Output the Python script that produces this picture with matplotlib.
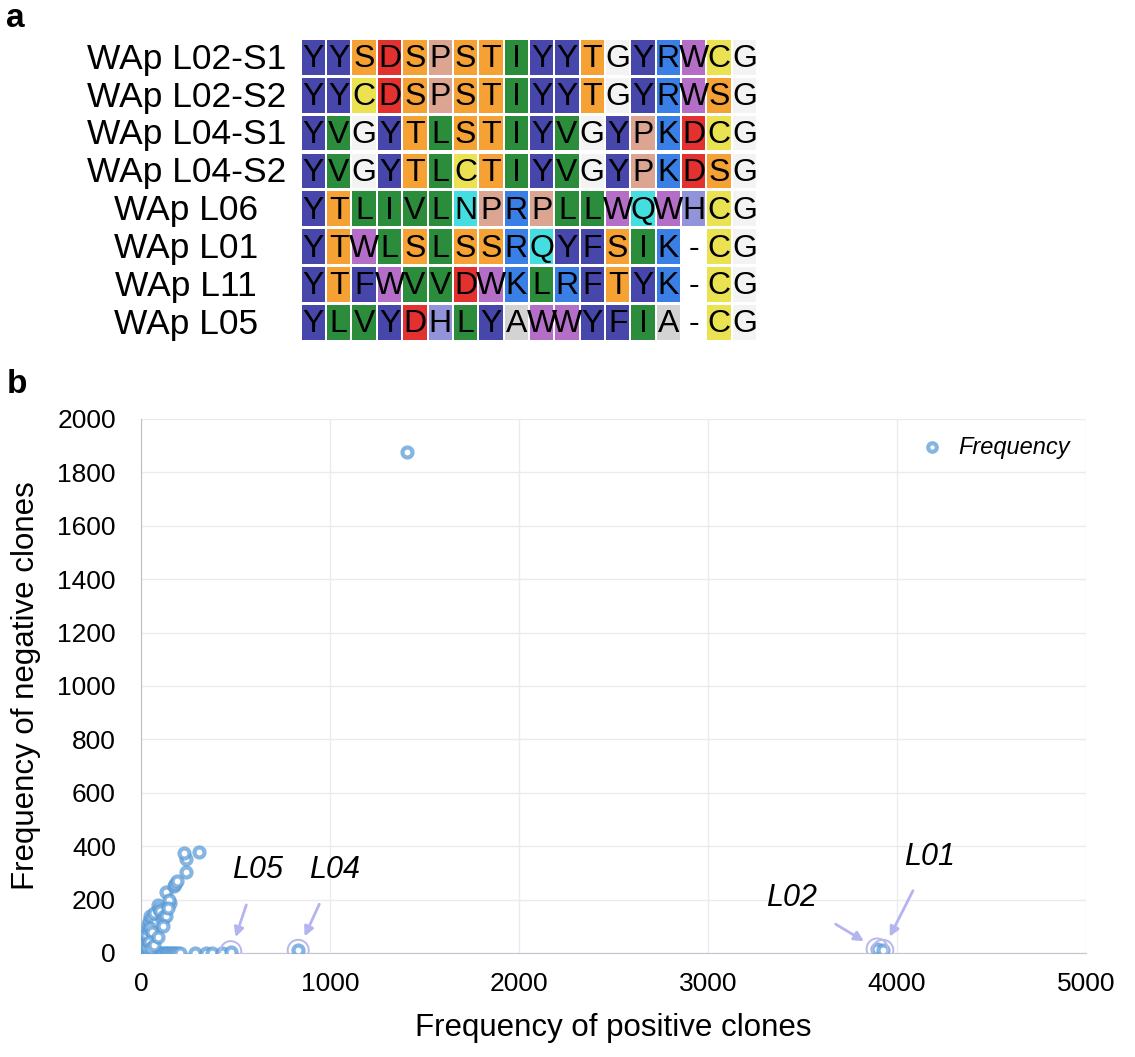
import matplotlib
matplotlib.use('Agg')
import matplotlib.pyplot as plt
from matplotlib.patches import Rectangle

plt.rcParams['font.family'] = ['Liberation Sans', 'DejaVu Sans']

# panel a: peptide alignment
names = ['WAp L02-S1', 'WAp L02-S2', 'WAp L04-S1', 'WAp L04-S2',
         'WAp L06', 'WAp L01', 'WAp L11', 'WAp L05']
seqs = ['YYSDSPSTIYYTGYRWCG',
        'YYCDSPSTIYYTGYRWSG',
        'YVGYTLSTIYVGYPKDCG',
        'YVGYTLCTIYVGYPKDSG',
        'YTLIVLNPRPLLWQWHCG',
        'YTWLSLSSRQYFSIK-CG',
        'YTFWVVDWKLRFTYK-CG',
        'YLVYDHLYAWWYFIA-CG']

# panel b: clone frequencies
pos_freq = [30, 38, 45, 52, 60, 68, 76, 84, 92, 100, 110, 120, 130, 140, 150,
            160, 170, 180, 192, 205, 287, 344, 376, 429,
            32, 32, 32, 30, 28, 35, 35, 40, 49, 60, 76, 70, 88, 95, 102, 110,
            120, 134, 134, 155, 150, 173, 182, 192, 236, 240, 229, 305, 50, 60,
            45, 55, 70, 90, 115, 145,
            1406, 475, 832, 3895, 3925]
neg_freq = [0, 0, 0, 0, 0, 0, 0, 0, 0, 0, 0, 0, 0, 0, 0,
            0, 0, 0, 0, 0, 0, 0, 0, 0,
            10, 23, 48, 60, 73, 90, 105, 120, 137, 130, 111, 150, 178, 165, 156, 125,
            140, 137, 228, 187, 200, 250, 260, 270, 305, 352, 375, 377, 95, 80,
            40, 20, 30, 60, 100, 170,
            1878, 5, 10, 15, 10]
hits = ['L05', 'L04', 'L02', 'L01']
hit_x = [475, 832, 3895, 3925]
hit_y = [5, 10, 15, 10]
label_x = [619, 1026, 3444, 4175]
label_y = [311, 311, 206, 360]

aa_colors = {
    'Y': '#4646ab', 'F': '#4646ab',
    'S': '#f6a133', 'T': '#f6a133',
    'D': '#e2312f',
    'P': '#dca592',
    'I': '#2b8c3b', 'L': '#2b8c3b', 'V': '#2b8c3b',
    'G': '#f3f3f3',
    'R': '#3a7fe6', 'K': '#3a7fe6',
    'W': '#b56ec7',
    'C': '#ebe252',
    'N': '#44dde0', 'Q': '#44dde0',
    'H': '#9393d9',
    'A': '#d3d3d3',
    '-': '#ffffff',
}

fig = plt.figure(figsize=(11.35, 10.57), dpi=100)

ax1 = fig.add_axes([0.265, 0.677, 0.402, 0.2867])
ax1.set_xlim(0, 18)
ax1.set_ylim(8, 0)
ax1.axis('off')
for r, (name, seq) in enumerate(zip(names, seqs)):
    for c, aa in enumerate(seq):
        ax1.add_patch(Rectangle((c + 0.04, r + 0.04), 0.92, 0.92,
                                facecolor=aa_colors[aa], edgecolor='none'))
        ax1.text(c + 0.5, r + 0.55, aa, ha='center', va='center',
                 fontsize=23, color='black')
    ax1.text(-4.52, r + 0.55, name, ha='center', va='center',
             fontsize=25.5, color='black', clip_on=False)

fig.text(0.005, 0.997, 'a', fontsize=24, fontweight='bold', va='top')
fig.text(0.006, 0.651, 'b', fontsize=24, fontweight='bold', va='top')

ax = fig.add_axes([0.1242, 0.0984, 0.8326, 0.5052])
ax.scatter(pos_freq, neg_freq, s=52, facecolors='white',
           edgecolors=(0.36, 0.61, 0.84, 0.75), linewidths=3,
           label='Frequency', zorder=3)
ax.scatter(hit_x, hit_y, s=230, facecolors='none', edgecolors='#b8b8ec',
           linewidths=1.4, zorder=4)
for name, hx, hy, lx, ly in zip(hits, hit_x, hit_y, label_x, label_y):
    ax.annotate(name, xy=(hx, hy), xytext=(lx, ly), fontsize=22,
                style='italic', ha='center', va='center',
                arrowprops=dict(arrowstyle='-|>', color='#b4b4f0', lw=2,
                                shrinkA=13, shrinkB=11, mutation_scale=14))

ax.set_xlim(0, 5000)
ax.set_ylim(0, 2000)
ax.set_xticks(range(0, 5001, 1000))
ax.set_yticks(range(0, 2001, 200))
ax.grid(True, color='#ebebeb', lw=1)
ax.set_axisbelow(True)
for s in ['top', 'right']:
    ax.spines[s].set_visible(False)
ax.spines['left'].set_color('#bfbfbf')
ax.spines['bottom'].set_color('#c4c4d4')
ax.tick_params(length=0, labelsize=19)
ax.tick_params(axis='x', pad=14)
ax.tick_params(axis='y', pad=18)
ax.set_xlabel('Frequency of positive clones', fontsize=22.5, labelpad=12)
ax.set_ylabel('Frequency of negative clones', fontsize=22.5, labelpad=12)
leg = ax.legend(loc='upper right', frameon=False, handletextpad=0.1,
                prop={'style': 'italic', 'size': 17}, borderaxespad=0.3,
                markerscale=0.85)

fig.savefig('out.png', dpi=100)
